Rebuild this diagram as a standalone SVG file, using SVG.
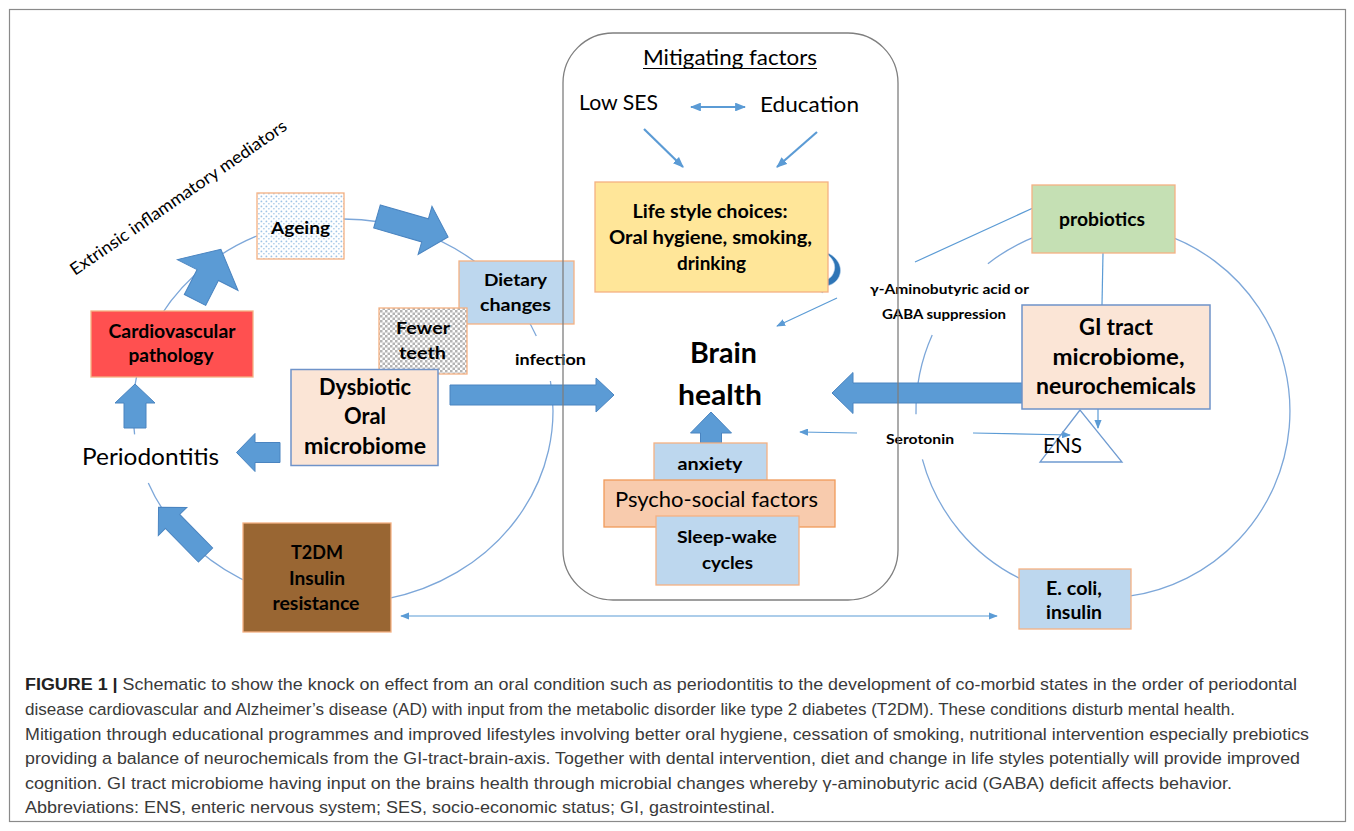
<svg xmlns="http://www.w3.org/2000/svg" width="1354" height="831" viewBox="0 0 1354 831">
<style>
.t{font-family:Lato,'Open Sans','Liberation Sans',sans-serif;fill:#000}
.b{font-weight:bold}
.m{text-anchor:middle}
.arc{fill:none;stroke:#7DA7D9;stroke-width:1.3}
.ln{fill:none;stroke:#5B9BD5;stroke-width:1.2}
.ln2{fill:none;stroke:#5B9BD5;stroke-width:2.2}
.blk{fill:#5B9BD5;stroke:#4A84C0;stroke-width:1}
.ob{stroke:#F4B183;stroke-width:1.3}
.bb{stroke:#6F93C9;stroke-width:1.5}
.cap{font-family:'Liberation Sans',Arial,sans-serif;font-size:17.2px;fill:#3a3a3a}
</style>
<defs>
<marker id="ah" viewBox="0 0 10 8" refX="9" refY="4" markerWidth="9" markerHeight="7.2" markerUnits="userSpaceOnUse" orient="auto-start-reverse"><path d="M0,0 L10,4 L0,8 z" fill="#5B9BD5"/></marker>
<marker id="ah2" viewBox="0 0 10 8" refX="9" refY="4" markerWidth="11" markerHeight="8.8" markerUnits="userSpaceOnUse" orient="auto-start-reverse"><path d="M0,0 L10,4 L0,8 z" fill="#5B9BD5"/></marker>
<pattern id="dots" width="5" height="5" patternUnits="userSpaceOnUse"><rect width="5" height="5" fill="#fff"/><circle cx="1.4" cy="1.4" r="0.9" fill="#9DC3E6"/><circle cx="3.9" cy="3.8" r="0.8" fill="#9DC3E6"/></pattern>
<pattern id="checks" width="5" height="5" patternUnits="userSpaceOnUse"><rect width="5" height="5" fill="#fff"/><rect width="2.5" height="2.5" fill="#B4B4B4"/><rect x="2.5" y="2.5" width="2.5" height="2.5" fill="#B4B4B4"/></pattern>
</defs>
<rect width="1354" height="831" fill="#fff"/>
<rect x="9.5" y="9.5" width="1336" height="812" fill="none" stroke="#8a8a8a" stroke-width="1.2"/>

<g id="connectors">
  <path class="arc" d="M335.7,219.1 A210,192 0 0,1 483.5,268.3"/>
  <path class="arc" d="M524.9,315 A210,192 0 0,1 536.3,336"/>
  <path class="arc" d="M550.4,381 A210,192 0 0,1 386.7,598.8"/>
  <path class="arc" d="M271.2,591.4 A210,192 0 0,1 148.3,482.9"/>
  <path class="arc" d="M134.6,434.4 A210,192 0 0,1 137.6,371.1"/>
  <path class="arc" d="M161.1,315 A210,192 0 0,1 271.2,230.6"/>
  <path class="arc" d="M1160.8,233.2 A187,187 0 0,1 1129,596.2"/>
  <path class="arc" d="M1036,236.4 A187,187 0 0,0 987.9,263.7"/>
  <path class="arc" d="M932.2,334.9 A187,187 0 0,0 916,414.3"/>
  <path class="arc" d="M922.4,459.4 A187,187 0 0,0 1024,580.5"/>

  <line class="ln" x1="1033" y1="208" x2="915" y2="262"/>
  <line class="ln" x1="1103" y1="253" x2="1102" y2="305"/>
  <line class="ln2" x1="691" y1="107" x2="745" y2="107" marker-start="url(#ah2)" marker-end="url(#ah2)"/>
  <line class="ln2" x1="644" y1="129" x2="683" y2="167" marker-end="url(#ah2)"/>
  <line class="ln2" x1="817" y1="132" x2="777" y2="167" marker-end="url(#ah2)"/>
  <line class="ln" x1="837" y1="298" x2="777" y2="326" marker-end="url(#ah)"/>
  <line class="ln" x1="857" y1="433" x2="800" y2="432" marker-end="url(#ah)"/>
  <line class="ln" x1="973" y1="433" x2="1070" y2="435" marker-end="url(#ah)"/>
  <line class="ln" x1="1098" y1="409" x2="1098" y2="428" marker-end="url(#ah)"/>
  <line class="ln" x1="401" y1="616" x2="997" y2="616" marker-start="url(#ah)" marker-end="url(#ah)"/>

  <polygon class="blk" transform="translate(377,216.5) rotate(16.1)" points="0,-12 50,-12 50,-25 74,0 50,25 50,12 0,12"/>
  <polygon class="blk" transform="translate(195,300) rotate(-63)" points="0,-12 28,-12 28,-34 57,0 28,34 28,12 0,12"/>
  <polygon class="blk" points="124,428 124,403 115,403 135,384 155,403 146,403 146,428"/>
  <polygon class="blk" points="280,442.5 255,442.5 255,433.5 236.5,452.5 255,471.5 255,462.5 280,462.5"/>
  <polygon class="blk" transform="translate(205.5,555) rotate(-134.5)" points="0,-10 47,-10 47,-20 67,0 47,20 47,10 0,10"/>
  <polygon class="blk" points="450,385 596,385 596,378 614,395 596,412 596,405 450,405"/>
  <polygon class="blk" points="1022,383 853,383 853,372.5 832,393 853,413.5 853,403 1022,403"/>
  <polygon class="blk" points="700.5,443 700.5,433 690.5,433 711,412 731.5,433 721.5,433 721.5,443"/>
  <path d="M823,251 C836,255 844,266 839,277 C836,283 830,286 822,287 L823,293 L804,283 L821,273 L822,281 C827,280 831,278 833,274 C837,266 834,258 823,251 Z" fill="#2E75B6" stroke="#BDD7EE" stroke-width="0.6"/>
</g>

<g id="label-extrinsic">
  <text class="t" font-size="17" transform="translate(75,276) rotate(-34.6)" textLength="259" lengthAdjust="spacingAndGlyphs">Extrinsic inflammatory mediators</text>
</g>

<g id="node-ageing">
  <rect x="257" y="193" width="87" height="66" fill="url(#dots)" class="ob"/>
  <text class="t b m" x="300.5" y="234" font-size="17" textLength="59" lengthAdjust="spacingAndGlyphs">Ageing</text>
</g>

<g id="node-cardio">
  <rect x="91" y="311" width="162" height="66" fill="#FF5050" class="ob"/>
  <text class="t b m" x="172" y="338" font-size="18" textLength="127" lengthAdjust="spacingAndGlyphs">Cardiovascular</text>
  <text class="t b m" x="171" y="362" font-size="18" textLength="85" lengthAdjust="spacingAndGlyphs">pathology</text>
</g>

<g id="node-periodontitis">
  <text class="t" x="82" y="465" font-size="23" textLength="137" lengthAdjust="spacingAndGlyphs">Periodontitis</text>
</g>

<g id="node-dietary">
  <rect x="459" y="261" width="115" height="63" fill="#BDD7EE" class="ob"/>
  <text class="t b m" x="515.5" y="286" font-size="17" textLength="63" lengthAdjust="spacingAndGlyphs">Dietary</text>
  <text class="t b m" x="515.5" y="311" font-size="17" textLength="71" lengthAdjust="spacingAndGlyphs">changes</text>
</g>

<g id="node-fewer-teeth">
  <rect x="379" y="308" width="88" height="66" fill="url(#checks)" class="ob"/>
  <text class="t b m" x="423" y="334" font-size="17" textLength="54" lengthAdjust="spacingAndGlyphs">Fewer</text>
  <text class="t b m" x="422.5" y="359" font-size="17" textLength="47" lengthAdjust="spacingAndGlyphs">teeth</text>
</g>

<g id="node-dysbiotic">
  <rect x="291" y="369.5" width="147" height="96" fill="#FBE5D6" class="bb"/>
  <text class="t b m" x="365" y="395" font-size="22" textLength="92" lengthAdjust="spacingAndGlyphs">Dysbiotic</text>
  <text class="t b m" x="365" y="424" font-size="22" textLength="42" lengthAdjust="spacingAndGlyphs">Oral</text>
  <text class="t b m" x="365" y="454" font-size="22" textLength="122" lengthAdjust="spacingAndGlyphs">microbiome</text>
</g>

<g id="label-infection">
  <text class="t b m" x="550.5" y="365" font-size="15" textLength="71" lengthAdjust="spacingAndGlyphs">infection</text>
</g>

<g id="node-t2dm">
  <rect x="243" y="523" width="148" height="109" fill="#996633" class="ob"/>
  <text class="t b m" x="317" y="558.5" font-size="19" textLength="52" lengthAdjust="spacingAndGlyphs">T2DM</text>
  <text class="t b m" x="317" y="584.5" font-size="19" textLength="56" lengthAdjust="spacingAndGlyphs">Insulin</text>
  <text class="t b m" x="316" y="609.5" font-size="19" textLength="87" lengthAdjust="spacingAndGlyphs">resistance</text>
</g>

<g id="node-lifestyle">
  <rect x="595" y="182" width="233" height="110" fill="#FFE699" class="ob"/>
  <text class="t b m" x="710" y="218" font-size="18" textLength="155" lengthAdjust="spacingAndGlyphs">Life style choices:</text>
  <text class="t b m" x="710.5" y="244" font-size="18" textLength="203" lengthAdjust="spacingAndGlyphs">Oral hygiene, smoking,</text>
  <text class="t b m" x="711.5" y="270" font-size="18" textLength="69" lengthAdjust="spacingAndGlyphs">drinking</text>
</g>

<g id="node-low-ses">
  <text class="t" x="579" y="110" font-size="22" textLength="79" lengthAdjust="spacingAndGlyphs">Low SES</text>
</g>
<g id="node-education">
  <text class="t" x="760" y="112" font-size="22" textLength="99" lengthAdjust="spacingAndGlyphs">Education</text>
</g>

<g id="node-brain-health">
  <text class="t b m" x="723.5" y="363" font-size="28" textLength="67" lengthAdjust="spacingAndGlyphs">Brain</text>
  <text class="t b m" x="720" y="405" font-size="28" textLength="84" lengthAdjust="spacingAndGlyphs">health</text>
</g>

<g id="node-anxiety">
  <rect x="654" y="443" width="113" height="40" fill="#BDD7EE" class="ob"/>
  <text class="t b m" x="710" y="470" font-size="17" textLength="65" lengthAdjust="spacingAndGlyphs">anxiety</text>
</g>

<g id="node-psychosocial">
  <rect x="604" y="480" width="231" height="47" fill="#F8CBAD" stroke="#F09A5A" stroke-width="1.3"/>
  <text class="t" x="615" y="507" font-size="21" textLength="203" lengthAdjust="spacingAndGlyphs">Psycho-social factors</text>
</g>

<g id="node-sleep">
  <rect x="656" y="516" width="143" height="69" fill="#BDD7EE" class="ob"/>
  <text class="t b m" x="727" y="543" font-size="17" textLength="100" lengthAdjust="spacingAndGlyphs">Sleep-wake</text>
  <text class="t b m" x="727.5" y="569" font-size="17" textLength="51" lengthAdjust="spacingAndGlyphs">cycles</text>
</g>

<g id="label-gaba">
  <text class="t b m" x="949.5" y="294" font-size="13.5" textLength="159" lengthAdjust="spacingAndGlyphs">γ-Aminobutyric acid or</text>
  <text class="t b m" x="944" y="319" font-size="13.5" textLength="124" lengthAdjust="spacingAndGlyphs">GABA suppression</text>
</g>

<g id="label-serotonin">
  <text class="t b m" x="920" y="444" font-size="13.5" textLength="68" lengthAdjust="spacingAndGlyphs">Serotonin</text>
</g>

<g id="node-probiotics">
  <rect x="1032" y="185" width="143" height="68" fill="#C5E0B4" class="ob"/>
  <text class="t b m" x="1102" y="226" font-size="18" textLength="86" lengthAdjust="spacingAndGlyphs">probiotics</text>
</g>

<g id="node-gi-tract">
  <rect x="1022" y="305" width="188" height="104" fill="#FBE5D6" class="bb"/>
  <text class="t b m" x="1116" y="335" font-size="22" textLength="74" lengthAdjust="spacingAndGlyphs">GI tract</text>
  <text class="t b m" x="1118.5" y="365" font-size="22" textLength="132" lengthAdjust="spacingAndGlyphs">microbiome,</text>
  <text class="t b m" x="1116" y="394" font-size="22" textLength="160" lengthAdjust="spacingAndGlyphs">neurochemicals</text>
</g>

<g id="node-ens">
  <polygon points="1080,410 1040,462 1122,462" fill="none" stroke="#6F9BD1" stroke-width="1.3"/>
  <text class="t" x="1043" y="453" font-size="21" textLength="39" lengthAdjust="spacingAndGlyphs">ENS</text>
</g>

<g id="node-ecoli">
  <rect x="1019" y="569" width="112" height="60" fill="#BDD7EE" class="ob"/>
  <text class="t b m" x="1074" y="595" font-size="18" textLength="56" lengthAdjust="spacingAndGlyphs">E. coli,</text>
  <text class="t b m" x="1074" y="619" font-size="18" textLength="56" lengthAdjust="spacingAndGlyphs">insulin</text>
</g>

<g id="node-mitigating">
  <rect x="563" y="33" width="335" height="567" rx="50" ry="50" fill="none" stroke="#7f7f7f" stroke-width="1.3"/>
  <text class="t m" x="730" y="65" font-size="21" textLength="174" lengthAdjust="spacingAndGlyphs">Mitigating factors</text>
  <line x1="643" y1="68.5" x2="817" y2="68.5" stroke="#000" stroke-width="1.2"/>
</g>

<g id="caption">
  <text class="cap" x="25" y="690" textLength="1272" lengthAdjust="spacingAndGlyphs"><tspan font-weight="bold" fill="#222">FIGURE 1 |</tspan> Schematic to show the knock on effect from an oral condition such as periodontitis to the development of co-morbid states in the order of periodontal</text>
  <text class="cap" x="25" y="715" textLength="1210" lengthAdjust="spacingAndGlyphs">disease cardiovascular and Alzheimer’s disease (AD) with input from the metabolic disorder like type 2 diabetes (T2DM). These conditions disturb mental health.</text>
  <text class="cap" x="25" y="740" textLength="1284" lengthAdjust="spacingAndGlyphs">Mitigation through educational programmes and improved lifestyles involving better oral hygiene, cessation of smoking, nutritional intervention especially prebiotics</text>
  <text class="cap" x="25" y="764" textLength="1275" lengthAdjust="spacingAndGlyphs">providing a balance of neurochemicals from the GI-tract-brain-axis. Together with dental intervention, diet and change in life styles potentially will provide improved</text>
  <text class="cap" x="25" y="789" textLength="1207" lengthAdjust="spacingAndGlyphs">cognition. GI tract microbiome having input on the brains health through microbial changes whereby γ-aminobutyric acid (GABA) deficit affects behavior.</text>
  <text class="cap" x="25" y="813" textLength="750" lengthAdjust="spacingAndGlyphs">Abbreviations: ENS, enteric nervous system; SES, socio-economic status; GI, gastrointestinal.</text>
</g>
</svg>
